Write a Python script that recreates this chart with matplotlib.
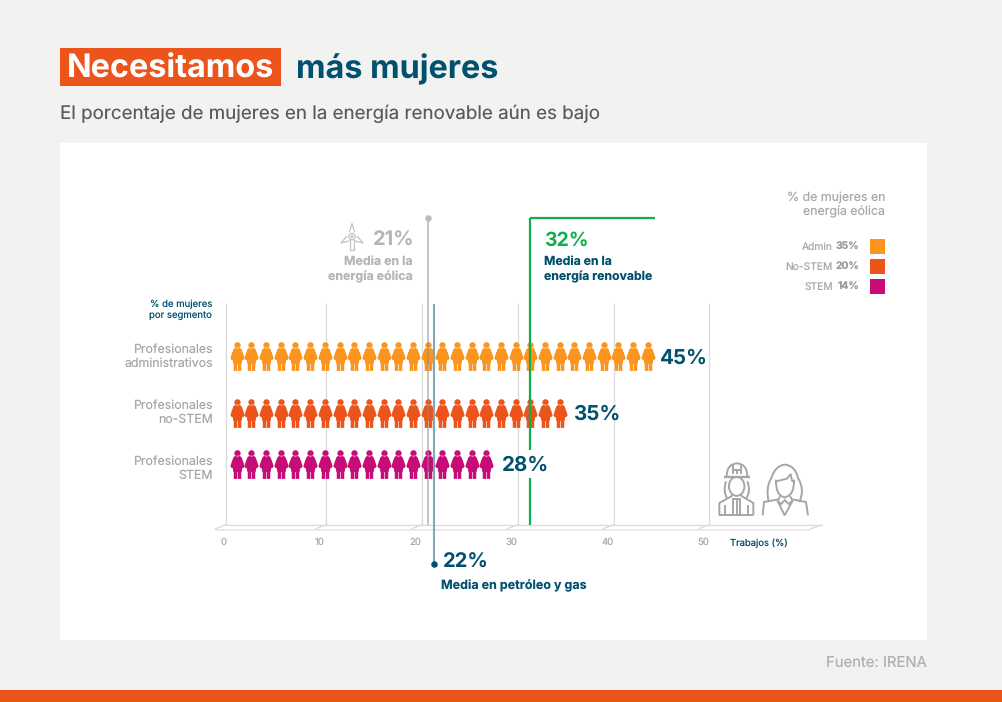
import matplotlib

matplotlib.use("Agg")
import matplotlib.pyplot as plt
import numpy as np
from matplotlib.patches import Ellipse, PathPatch, Rectangle
from matplotlib.path import Path

# values
segments = ["Profesionales\nadministrativos", "Profesionales\nno-STEM", "Profesionales\nSTEM"]
segment_pct = [45, 35, 28]
pct_per_person = 1.519
grid_ticks = [0, 10, 20, 30, 40, 50]
grid_lines = [0, 10.37, 20.3, 30.2, 40.1, 50]
mean_labels = ["21%", "22%", "32%"]
mean_lines = [20.9, 21.5, 31.45]
renew_flag_end = 44.4
legend_names = ["Admin", "No-STEM", "STEM"]
legend_pct = ["35%", "20%", "14%"]

BG = "#F2F2F0"
TEAL = "#00506F"
GREEN = "#0DB04B"
GRID = "#DADADA"
MUTED = "#A9A9A9"
ICON = "#A6A6A6"
COLORS = ["#FB951F", "#EC541C", "#C60C76"]

plt.rcParams["font.family"] = ["Inter", "DejaVu Sans"]
plt.rcParams["text.hinting"] = "none"

fig = plt.figure(figsize=(10.02, 7.02), dpi=100, facecolor=BG)

# page furniture lives on a pixel axes, the marks on a percent axes on top
page = fig.add_axes([0, 0, 1, 1])
page.set_xlim(0, 1002)
page.set_ylim(702, 0)
page.axis("off")

PX_PER_PCT = 9.66
chart = fig.add_axes([0, 0, 1, 1])
chart.set_xlim(-226.3 / PX_PER_PCT, (1002 - 226.3) / PX_PER_PCT)
chart.set_ylim(702, 0)
chart.axis("off")
chart.patch.set_alpha(0)

row_y = [356, 412.5, 463.5]
row_label_y = [353, 409, 465]
row_gap = [0.5, 0.6, 0.9]


def person_marker():
    right = [
        (1.8, 8.6), (3.9, 7.4), (5.3, 3.6), (6.4, 0.4), (7.0, -2.0), (5.8, -3.4),
        (4.6, -3.8), (4.2, -7.0), (3.7, -7.4), (3.7, -14.2), (0.3, -14.2), (0.3, -7.4),
    ]
    left = [(-x, y) for x, y in reversed(right)]
    head = Path.circle((0, 11.0), 3.1)
    return Path.make_compound_path(Path(right + left + [right[0]], closed=True), head)


def label(ax, x, y, s, size, color=MUTED, weight="normal", ha="left"):
    ax.text(x, y, s, fontsize=size, color=color, fontweight=weight, ha=ha, va="baseline", zorder=8)


def outline(points, lw=1.4, color=ICON, curved=False, ax=page):
    # points are in the 3x icon crop: origin 712,458
    pts = [(712 + px / 3, 458 + py / 3) for px, py in points]
    if curved:
        codes = [Path.MOVETO] + [Path.CURVE3] * (len(pts) - 1)
    else:
        codes = [Path.MOVETO] + [Path.LINETO] * (len(pts) - 1)
    ax.add_patch(PathPatch(Path(pts, codes), fc="none", ec=color, lw=lw, zorder=6))


# background panels
page.add_patch(Rectangle((60, 143), 867, 497, fc="white", ec="none"))
page.add_patch(Rectangle((0, 690), 1002, 12, fc=COLORS[1], ec="none"))
page.add_patch(Rectangle((60, 48), 221, 38, fc=COLORS[1], ec="none"))

# title block
label(page, 67, 78, "Necesitamos", 23.3, "white", "bold")
label(page, 296, 78, "más mujeres", 23.3, TEAL, "bold")
label(page, 60, 119, "El porcentaje de mujeres en la energía renovable aún es bajo", 13.5, "#5A5A5A")
label(page, 927, 667, "Fuente: IRENA", 10.7, "#B0B0B0", ha="right")

# floor and grid
page.add_patch(Rectangle((215, 528.5), 595, 2.2, fc="#EAEAEA", ec="none"))
page.plot([226, 822], [524.5, 524.5], color=GRID, lw=0.9)
page.plot([810, 822], [529, 525], color=GRID, lw=0.9)
chart.vlines(grid_lines, 303, 524.5, color=GRID, lw=0.9, zorder=1)
for g in grid_lines:
    px = 226.3 + g * PX_PER_PCT
    page.plot([px - 11, px], [529, 524.5], color=GRID, lw=0.9)

for t in grid_ticks:
    label(page, 224 + 9.58 * t, 545, str(t), 6.9, MUTED, ha="center")
label(page, 730, 546, "Trabajos (%)", 6.8, TEAL)

# pictogram rows
marker = person_marker()
for pct, y, base, gap, color, name in zip(segment_pct, row_y, row_label_y, row_gap, COLORS, segments):
    n = int(pct / pct_per_person)
    xs = 1.087 + pct_per_person * np.arange(n)
    chart.scatter(xs, [y] * n, s=(28.8 * 0.72) ** 2, marker=marker, color=color, linewidths=0, zorder=3)
    end = xs[-1] + 0.75
    label(chart, end + gap, y + 7.5, f"{pct}%", 14.8, TEAL, "bold")
    first, second = name.split("\n")
    label(page, 213, base, first, 8.9, MUTED, ha="right")
    label(page, 213, base + 14, second, 8.9, MUTED, ha="right")

label(page, 212, 307, "% de mujeres", 6.9, TEAL, ha="right")
label(page, 212, 318, "por segmento", 6.9, TEAL, ha="right")

# reference lines
wind, oil, renew = mean_lines
chart.vlines(wind, 218, 525, color="#8A8A8A", alpha=0.5, lw=1.4, zorder=4)
chart.scatter([wind], [218], s=22, color="#BDBDBD", linewidths=0, zorder=4)
chart.vlines(oil, 304, 564, color="#7FA8BE", lw=1.5, zorder=5)
chart.scatter([oil], [564], s=22, color=TEAL, linewidths=0, zorder=5)
chart.vlines([renew, renew], [218, 477.5], [450, 525], color=GREEN, lw=1.6, zorder=5)
chart.hlines(218, renew, renew_flag_end, color=GREEN, lw=1.6, zorder=5)

label(page, 414, 246, mean_labels[0], 14.4, "#B5B5B5", "bold", ha="right")
label(page, 413, 265, "Media en la", 8.9, "#B5B5B5", "bold", ha="right")
label(page, 413, 280, "energía eólica", 8.9, "#B5B5B5", "bold", ha="right")
label(page, 443, 568, mean_labels[1], 14.5, TEAL, "bold")
label(page, 441, 589, "Media en petróleo y gas", 9, TEAL, "bold")
label(page, 544, 246, mean_labels[2], 14, GREEN, "bold")
label(page, 544, 265, "Media en la", 8.8, TEAL, "bold")
label(page, 544, 280, "energía renovable", 8.8, TEAL, "bold")

# turbine icon
hub = (352, 236.5)
page.add_patch(Ellipse(hub, 6.5, 6.5, fc="none", ec="#C4C4C4", lw=0.9, zorder=6))
page.add_patch(Ellipse(hub, 2, 2, fc="none", ec="#C4C4C4", lw=0.9, zorder=6))
for ang in (90, 210, 330):
    a = np.deg2rad(ang)
    tip = (hub[0] + 13 * np.cos(a), hub[1] - 13 * np.sin(a))
    nx, ny = -np.sin(a) * 2.4, -np.cos(a) * 2.4
    mid = (hub[0] + 5 * np.cos(a), hub[1] - 5 * np.sin(a))
    page.plot([mid[0] + nx, tip[0], mid[0] - nx], [mid[1] + ny, tip[1], mid[1] - ny], color="#C4C4C4", lw=0.9)
page.plot([350.4, 350.4, 353.6, 353.6], [240, 250, 250, 240], color="#C4C4C4", lw=0.9)

# legend
label(page, 885, 201, "% de mujeres en", 8.9, MUTED, ha="right")
label(page, 885, 215, "energía eólica", 8.9, MUTED, ha="right")
for i, (name, val, color) in enumerate(zip(legend_names, legend_pct, COLORS)):
    y = 239 + 20 * i
    page.add_patch(Rectangle((870, y), 15, 15, fc=color, ec="none"))
    label(page, 859, y + 11, val, 7.4, "#9A9A9A", "bold", ha="right")
    label(page, 833, y + 11, name, 7.4, MUTED, ha="right")

# worker icon
outline([(35, 57), (113, 57)], lw=1.7)
outline([(44, 55), (44, 18), (75, 16), (106, 18), (106, 55)], curved=True)
outline([(63, 20), (63, 48)])
outline([(75, 32), (75, 48)])
outline([(87, 20), (87, 48)])
outline([(63, 35), (87, 35)])
page.add_patch(Ellipse((712 + 74 / 3, 458 + 85 / 3), 15.5, 19, fc="none", ec=ICON, lw=1.4, zorder=6))
outline([(42, 70), (32, 100), (46, 122)], curved=True)
outline([(106, 70), (118, 100), (102, 122)], curved=True)
outline([(22, 172), (22, 135), (58, 115), (62, 110)])
outline([(124, 172), (124, 135), (90, 115), (86, 110)])
outline([(22, 172), (124, 172)])
outline([(38, 172), (38, 140)])
outline([(108, 172), (108, 140)])
outline([(64, 172), (64, 122), (84, 122), (84, 172)])
outline([(74, 122), (74, 172)])

# woman icon
outline([(170, 130), (160, 90), (178, 60), (190, 22), (218, 20), (250, 22), (258, 60), (280, 95), (262, 132)], curved=True)
outline([(192, 65), (190, 112), (218, 118), (248, 112), (246, 65)], curved=True)
outline([(192, 70), (225, 62), (236, 48), (240, 68), (246, 72)])
outline([(152, 172), (156, 132), (200, 124), (204, 115)])
outline([(288, 172), (282, 132), (240, 124), (234, 115)])
outline([(196, 128), (218, 172), (242, 128)])
outline([(196, 128), (208, 138), (218, 126), (230, 138), (242, 128)])

fig.savefig("out.png", dpi=100, facecolor=fig.get_facecolor())
